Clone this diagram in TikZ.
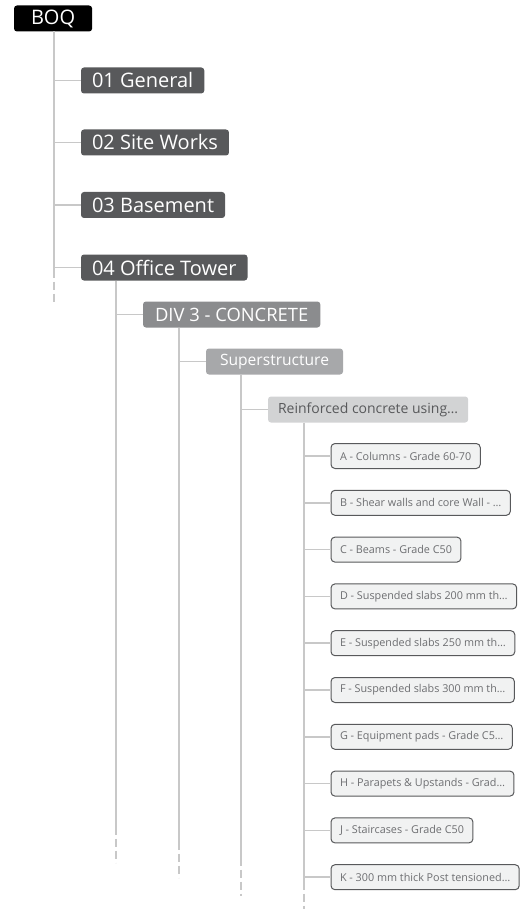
\documentclass[tikz,border=0pt]{standalone}
\usepackage{fontspec}
\setmainfont{Open Sans}
\usetikzlibrary{positioning}
\definecolor{linkgray}{HTML}{C8C8C8}
\definecolor{darkgray}{HTML}{58595B}
\definecolor{midgray}{HTML}{8B8C8E}
\definecolor{softgray}{HTML}{A7A8AA}
\definecolor{palegray}{HTML}{D2D3D4}
\definecolor{leafgray}{HTML}{F1F2F2}
\definecolor{leaftext}{HTML}{6D6E71}
\newcommand{\fsz}[1]{\fontsize{#1}{#1}\selectfont}

\begin{document}
\begin{tikzpicture}[
    x=1pt, y=-1pt,
    link/.style={draw=linkgray, line width=1.5pt},
    fade/.style={link, dash pattern=on 8pt off 4pt},
    every node/.style={ rounded corners=3pt,
                        minimum height=26pt,
                        inner xsep=11pt,
                        inner ysep=0pt,
                        outer sep=0pt,
                        anchor=west},
    root/.style={fill=black, text=white, inner xsep=17pt, font=\fsz{20}},
    topic/.style={fill=darkgray, text=white, font=\fsz{20}},
    division/.style={fill=midgray, text=white, inner xsep=12pt, font=\fsz{18.4}},
    section/.style={fill=softgray, text=white, inner xsep=14pt, font=\fsz{15.6}},
    item/.style={fill=palegray, text=darkgray, inner xsep=10pt, font=\fsz{14}},
    leaf/.style={fill=leafgray, draw=darkgray, line width=1pt, rounded corners=4pt,
                 minimum height=25pt, text=leaftext, inner xsep=9pt, font=\fsz{10.8}}]

    \useasboundingbox (0,0) rectangle (519,909);

    \node[root] (boq) at (14,18.5) {BOQ};

    \node[topic, below right=36pt and 67pt of boq.south west] (gen) {01 General};
    \node[topic, below=36pt of gen.south west, anchor=north west] (site) {02 Site Works};
    \node[topic, below=36.5pt of site.south west, anchor=north west] (base) {03 Basement};
    \node[topic, below=36.5pt of base.south west, anchor=north west] (tower) {04 Office Tower};

    \node[division, below right=21pt and 62pt of tower.south west] (div3) {DIV 3 - CONCRETE};
    \node[section, below right=21pt and 63pt of div3.south west] (super) {Superstructure};
    \node[item, below right=22pt and 62pt of super.south west] (rc) {Reinforced concrete using…};

    \node[leaf, below right=21pt and 63pt of rc.south west] (la) {A - Columns - Grade 60-70};
    \node[leaf, below=21.8pt of la.south west, anchor=north west] (lb) {B - Shear walls and core Wall - …};
    \node[leaf, below=21.8pt of lb.south west, anchor=north west] (lc) {C - Beams - Grade C50};
    \node[leaf, below=21.8pt of lc.south west, anchor=north west] (ld) {D - Suspended slabs 200 mm th…};
    \node[leaf, below=21.8pt of ld.south west, anchor=north west] (le) {E - Suspended slabs 250 mm th…};
    \node[leaf, below=21.8pt of le.south west, anchor=north west] (lf) {F - Suspended slabs 300 mm th…};
    \node[leaf, below=21.8pt of lf.south west, anchor=north west] (lg) {G - Equipment pads - Grade C5…};
    \node[leaf, below=21.8pt of lg.south west, anchor=north west] (lh) {H - Parapets \& Upstands - Grad…};
    \node[leaf, below=21.8pt of lh.south west, anchor=north west] (lj) {J - Staircases - Grade C50};
    \node[leaf, below=21.8pt of lj.south west, anchor=north west] (lk) {K - 300 mm thick Post tensioned…};

    % trunks
    \coordinate[xshift=40pt] (t0) at (boq.south west);
    \coordinate[xshift=35pt] (t1) at (tower.south west);
    \coordinate[xshift=36pt] (t2) at (div3.south west);
    \coordinate[xshift=35pt] (t3) at (super.south west);
    \coordinate[xshift=36pt] (t4) at (rc.south west);

    \draw[link] (t0) -- ++(0,238) coordinate (t0e);
    \draw[fade] (t0e) -- ++(0,32);
    \draw[link] (t1) -- ++(0,546) coordinate (t1e);
    \draw[fade] (t1e) -- ++(0,36);
    \draw[link] (t2) -- ++(0,514) coordinate (t2e);
    \draw[fade] (t2e) -- ++(0,36);
    \draw[link] (t3) -- ++(0,483) coordinate (t3e);
    \draw[fade] (t3e) -- ++(0,38);
    \draw[link] (t4) -- ++(0,459) coordinate (t4e);
    \draw[fade] (t4e) -- ++(0,30);

    % branches
    \foreach \n in {gen, site, base, tower}
        \draw[link] (t0 |- \n.west) -- (\n.west);
    \draw[link] (t1 |- div3.west) -- (div3.west);
    \draw[link] (t2 |- super.west) -- (super.west);
    \draw[link] (t3 |- rc.west) -- (rc.west);
    \foreach \n in {la, lb, lc, ld, le, lf, lg, lh, lj, lk}
        \draw[link] (t4 |- \n.west) -- (\n.west);

\end{tikzpicture}
\end{document}
